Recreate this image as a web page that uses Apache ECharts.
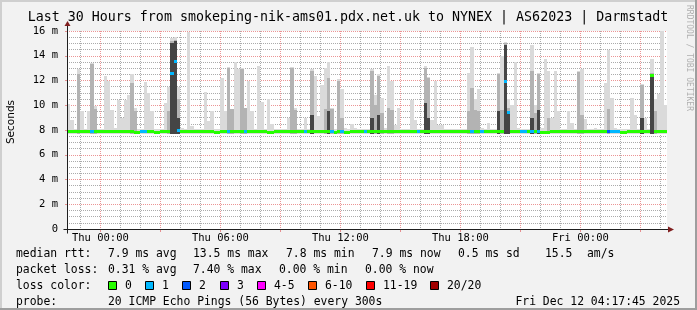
<!DOCTYPE html>
<html><head><meta charset="utf-8">
<script src="https://cdn.jsdelivr.net/npm/echarts@6/dist/echarts.min.js"></script>
<style>html,body{margin:0;padding:0;background:#f2f2f2}#c{width:697px;height:310px}</style>
</head><body><div id="c"></div>
<script>
// ---- data (10-minute bins, Wed 22:20 -> Fri 04:20) ----
const xTickLabels = ['Thu 00:00','Thu 06:00','Thu 12:00','Thu 18:00','Fri 00:00'];
const yTickLabels = ['0','2 m','4 m','6 m','8 m','10 m','12 m','14 m','16 m'];
const smokeFloor = 7.7;
// highest ping per bin (ms)
const pingMax = [
10.1,8.8,8.1,12.9,9.5,8.1,9.5,13.4,9.9,8.1, 8.1,12.4,12.0,9.6,8.2,10.4,9.0,10.4,10.8,12.5,
9.8,8.1,8.1,11.9,11.0,9.5,8.1,8.1,8.1,10.2, 11.5,15.4,15.5,11.5,8.2,8.1,15.9,8.3,8.1,8.1,
8.1,11.1,8.7,9.5,8.1,8.1,12.2,9.5,13.1,9.7, 13.5,12.9,13.0,9.8,12.0,9.5,8.1,13.2,10.3,8.1,
10.5,8.5,8.1,8.1,8.1,8.1,9.0,13.1,9.8,8.1, 8.1,9.0,8.1,12.9,12.4,9.1,11.6,13.0,13.5,9.8,
8.1,12.1,11.3,8.2,8.1,8.5,8.2,8.1,8.1,8.1, 8.1,12.9,10.8,12.5,10.6,8.2,13.2,12.0,8.4,9.8,
8.1,8.1,8.1,10.4,8.8,8.1,8.1,13.2,12.3,8.8, 12.0,8.4,8.4,8.1,8.1,8.1,8.1,8.1,8.1,8.1,
12.6,14.7,10.5,11.3,8.2,8.1,8.6,8.1,8.1,12.6, 14.0,15.1,10.5,10.0,13.5,8.2,8.1,8.1,8.1,14.9,
10.0,12.6,8.2,13.7,12.8,9.0,12.8,9.5,8.1,8.1, 9.5,8.6,8.1,12.8,12.9,8.9,8.1,8.1,8.2,8.1,
8.1,11.8,14.5,10.6,8.2,8.1,8.1,8.1,8.1,10.6, 9.2,8.1,11.7,9.0,8.1,13.7,10.5,10.9,16.0,10.0];
// upper edge of the medium smoke band (0 = none)
const pingMid = [
0,0,0,12.5,0,0,0,13.3,9.7,0, 0,0,0,0,0,0,0,0,0,11.8,
9.5,0,0,0,0,0,0,0,0,0, 9.5,15.2,15.3,10.5,0,0,0,0,0,0,
0,0,0,0,0,0,0,0,13.0,9.7, 0,0,12.9,9.75,0,0,0,0,0,0,
0,0,0,0,0,0,0,13.0,9.6,0, 0,0,0,12.8,0,0,0,9.7,12.2,9.7,
0,12.0,9.0,0,0,0,0,0,0,0, 0,12.8,10.0,12.4,9.4,0,9.8,9.6,0,0,
0,0,0,0,0,0,0,13.0,12.2,0, 0,0,0,0,0,0,0,0,0,0,
9.5,11.4,9.6,9.5,0,0,0,0,0,12.5, 9.6,15.0,9.8,0,0,0,0,0,0,12.8,
9.4,12.5,0,0,9.0,0,0,0,0,0, 0,0,0,12.7,9.2,0,0,0,0,0,
0,0,9.7,0,0,0,0,0,0,0, 0,0,11.6,0,0,12.6,9.5,0,0,0];
// upper edge of the dark smoke band (0 = none)
const pingDark = [
0,0,0,0,0,0,0,0,0,0, 0,0,0,0,0,0,0,0,0,0,
0,0,0,0,0,0,0,0,0,0, 0,15.0,15.2,9.0,0,0,0,0,0,0,
0,0,0,0,0,0,0,0,0,0, 0,0,0,0,0,0,0,0,0,0,
0,0,0,0,0,0,0,0,0,0, 0,0,0,9.2,0,0,0,0,9.5,0,
0,0,0,0,0,0,0,0,0,0, 0,9.0,0,9.2,0,0,0,0,0,0,
0,0,0,0,0,0,0,10.2,9.0,0, 0,0,0,0,0,0,0,0,0,0,
0,0,0,0,0,0,0,0,0,9.5, 0,14.9,9.3,0,0,0,0,0,0,9.0,
0,9.6,0,0,0,0,0,0,0,0, 0,0,0,0,0,0,0,0,0,0,
0,0,0,0,0,0,0,0,0,0, 0,0,9.0,0,0,12.4,0,0,0,0];
// median rtt per bin (ms)
const medianRtt = [
7.9,7.9,7.9,7.9,7.9,7.9,7.9,7.9,7.9,7.9, 7.9,7.9,7.9,7.9,7.9,7.9,7.9,7.9,7.9,7.9,
7.8,7.8,7.9,7.9,7.9,7.9,7.8,7.8,7.9,7.9, 7.9,12.6,13.5,8.0,7.9,7.9,7.9,7.9,7.9,7.9,
7.9,7.9,7.9,7.9,7.8,7.8,7.9,7.9,7.9,7.9, 7.9,7.9,7.9,7.9,7.9,7.9,7.9,7.9,7.9,7.9,
7.8,7.8,7.9,7.9,7.9,7.9,7.9,7.9,7.9,7.9, 7.9,7.9,7.9,7.9,7.9,7.9,7.9,7.9,7.9,7.9,
7.8,7.9,7.9,7.8,7.8,7.9,7.9,7.9,7.9,7.9, 7.9,7.9,7.9,7.9,7.9,7.9,7.9,7.9,7.9,7.9,
7.9,7.9,7.9,7.9,7.9,7.9,7.9,7.9,7.9,7.9, 7.9,7.9,7.9,7.9,7.9,7.9,7.9,7.9,7.9,7.9,
7.9,7.9,7.9,7.9,7.9,7.9,7.9,7.9,7.9,7.9, 7.9,11.9,9.4,7.9,7.9,7.9,7.9,7.9,7.9,7.9,
7.9,7.9,7.8,7.8,7.8,7.9,7.9,7.9,7.9,7.9, 7.9,7.9,7.9,7.9,7.9,7.9,7.9,7.9,7.9,7.9,
7.9,7.9,7.9,7.9,7.9,7.9,7.8,7.8,7.9,7.9, 7.9,7.9,7.9,7.9,7.9,12.4,7.9,7.9,7.9,7.9];
// lost pings (of 20) per bin
const lostPings = [
0,0,0,0,0,0,0,1,0,0, 0,0,0,0,0,0,0,0,0,0,
0,0,1,1,0,0,0,0,0,0, 0,1,1,1,0,0,0,0,0,0,
0,0,0,0,0,0,0,0,1,0, 0,0,0,1,0,0,0,0,0,0,
0,0,0,0,0,0,0,0,0,0, 0,1,0,0,0,0,0,0,0,1,
0,0,1,0,0,0,0,0,0,1, 0,0,0,0,0,0,0,0,0,0,
0,0,0,0,0,1,0,0,0,0, 0,0,0,0,0,0,0,0,0,0,
0,1,0,0,1,0,0,0,0,0, 0,1,1,0,0,0,1,1,0,1,
0,1,0,0,0,0,0,0,0,0, 0,0,0,0,0,0,0,0,0,0,
0,0,2,1,1,1,0,0,0,0, 0,0,0,0,0,0,0,0,0,0];
const lossLegend = ['0','1','2','3','4-5','6-10','11-19','20/20'];
const lossColors = ['#26ff00','#00b8ff','#0059ff','#7e00ff','#ff00ff','#ff5500','#ff0000','#a10000'];

// ---- categories ----
const days = ['Wed','Thu','Fri'];
const categories = [];
for (let i = 0; i <= pingMax.length; i++) {
  const t = 22 * 60 + 20 + i * 10;
  const d = days[Math.floor(t / 1440)];
  const hh = Math.floor((t % 1440) / 60), mm = t % 60;
  categories.push(d + ' ' + String(hh).padStart(2, '0') + ':' + String(mm).padStart(2, '0'));
}
const hourOf = v => parseInt(v.slice(4, 6), 10);
const isHour = v => v.slice(7) === '00';
const lossIdx = n => n <= 3 ? n : n <= 5 ? 4 : n <= 10 ? 5 : n < 20 ? 6 : 7;

const MONO = '"DejaVu Sans Mono"';
const GRID = 'rgba(143,143,143,0.75)';
const MGRID = 'rgba(222,79,79,0.6)';
const C_LIGHT = '#dadada', C_MID = '#b3b3b3', C_DARK = '#454545';

const smokeData = pingMax.map((v, i) => [i, v, pingMid[i], pingDark[i]]);
const medData = medianRtt.map((v, i) => [i, v, lostPings[i]]);

function renderSmoke(params, api) {
  const i = api.value(0);
  const xL = Math.round(api.coord([i, 0])[0]);
  const xR = Math.round(api.coord([i + 1, 0])[0]);
  const yLo = Math.round(api.coord([i, smokeFloor])[1]);
  const kids = [];
  const band = (v, c) => {
    const yT = Math.round(api.coord([i, v])[1]);
    kids.push({ type: 'rect', shape: { x: xL, y: yT, width: xR - xL, height: yLo - yT }, style: { fill: c } });
  };
  band(api.value(1), C_LIGHT);
  if (api.value(2) > 0) band(api.value(2), C_MID);
  if (api.value(3) > 0) band(api.value(3), C_DARK);
  return { type: 'group', children: kids };
}
function renderMedian(params, api) {
  const i = api.value(0);
  const xL = Math.round(api.coord([i, 0])[0]);
  const xR = Math.round(api.coord([i + 1, 0])[0]);
  const y = Math.round(api.coord([i, api.value(1)])[1] - 1.5);
  return { type: 'rect', shape: { x: xL, y: y, width: xR - xL, height: 3 }, style: { fill: lossColors[lossIdx(api.value(2))] } };
}
function renderAxes(params, api) {
  const o = api.coord([0, 0]), r = api.coord([categories.length - 1, 0]), t = api.coord([0, 16]);
  const x0 = Math.round(o[0]) + 0.5, y0 = Math.round(o[1]) + 0.5, x1 = Math.round(r[0]), yt = Math.round(t[1]);
  const AX = '#1f1f1f', AR = '#801f1f';
  return { type: 'group', children: [
    { type: 'line', shape: { x1: x0, y1: y0 + 4, x2: x0, y2: yt - 6 }, style: { stroke: AX, lineWidth: 1 } },
    { type: 'line', shape: { x1: x0 - 4, y1: y0, x2: x1 + 5, y2: y0 }, style: { stroke: AX, lineWidth: 1 } },
    { type: 'polygon', shape: { points: [[x0 - 3, yt - 5], [x0 + 3, yt - 5], [x0, yt - 10]] }, style: { fill: AR } },
    { type: 'polygon', shape: { points: [[x1 + 1, y0 - 3], [x1 + 1, y0 + 3], [x1 + 7, y0]] }, style: { fill: AR } }
  ] };
}

function txt(x, y, s, o) {
  o = o || {};
  return { type: 'text', x: x, y: y, rotation: o.rot || 0, z: 10,
    style: { text: s, font: (o.size || 11.4) + 'px ' + (o.fam || MONO), fill: o.fill || '#000',
      align: o.align || 'left', textAlign: o.align || 'left', verticalAlign: 'middle', textVerticalAlign: 'middle' } };
}
const R1 = 254, R2 = 270, R3 = 286, R4 = 302;
const graphics = [
  { type: 'rect', shape: { x: 0, y: 0, width: 697, height: 2 }, style: { fill: '#cfcfcf' }, z: 9 },
  { type: 'rect', shape: { x: 0, y: 0, width: 2, height: 310 }, style: { fill: '#cfcfcf' }, z: 9 },
  { type: 'rect', shape: { x: 0, y: 308, width: 697, height: 2 }, style: { fill: '#9e9e9e' }, z: 9 },
  { type: 'rect', shape: { x: 695, y: 0, width: 2, height: 310 }, style: { fill: '#9e9e9e' }, z: 9 },
  txt(348, 18, 'Last 30 Hours from smokeping-nik-ams01.pdx.net.uk to NYNEX | AS62023 | Darmstadt', { size: 13.3, align: 'center' }),
  txt(11, 122, 'Seconds', { size: 10.5, fam: '"DejaVu Sans"', align: 'center', rot: Math.PI / 2 }),
  txt(689, 5, 'RRDTOOL / TOBI OETIKER', { size: 8, fill: '#b0b0b0', rot: -Math.PI / 2 }),
  txt(16, R1, 'median rtt:'), txt(108, R1, '7.9 ms avg'), txt(193, R1, '13.5 ms max'), txt(286, R1, '7.8 ms min'),
  txt(372, R1, '7.9 ms now'), txt(458, R1, '0.5 ms sd'), txt(545, R1, '15.5'), txt(587, R1, 'am/s'),
  txt(16, R2, 'packet loss:'), txt(108, R2, '0.31 % avg'), txt(193, R2, '7.40 % max'), txt(279, R2, '0.00 % min'), txt(365, R2, '0.00 % now'),
  txt(16, R3, 'loss color:'),
  txt(16, R4, 'probe:'), txt(108, R4, '20 ICMP Echo Pings (56 Bytes) every 300s'), txt(680, R4, 'Fri Dec 12 04:17:45 2025', { align: 'right' })
];
const boxX = [108, 145, 182, 220, 257, 308, 366, 430];
lossLegend.forEach((lab, k) => {
  graphics.push({ type: 'rect', z: 10, shape: { x: boxX[k] + 0.5, y: R3 - 4.5, width: 8, height: 8 }, style: { fill: lossColors[k], stroke: '#000', lineWidth: 1 } });
  graphics.push(txt(boxX[k] + 17, R3, lab));
});

const chart = echarts.init(document.getElementById('c'), null, { renderer: 'canvas' });
chart.setOption({
  animation: false,
  backgroundColor: '#f2f2f2',
  grid: { left: 67, top: 31, width: 600, height: 198, show: true, backgroundColor: '#ffffff', borderWidth: 0 },
  xAxis: [
    { type: 'category', data: categories, boundaryGap: false, position: 'bottom',
      axisLine: { show: false }, axisTick: { show: false }, axisLabel: { show: false },
      splitLine: { show: true, interval: (i, v) => isHour(v) && hourOf(v) % 3 !== 0, lineStyle: { color: GRID, type: [1, 1] } } },
    { type: 'category', data: categories, boundaryGap: false, position: 'bottom',
      axisLine: { show: false },
      axisTick: { show: true, length: 3, interval: (i, v) => isHour(v) && hourOf(v) % 3 === 0, lineStyle: { color: MGRID } },
      axisLabel: { show: true, interval: (i, v) => xTickLabels.indexOf(v) >= 0, fontFamily: MONO, fontSize: 10.5, color: '#000', margin: 4 },
      splitLine: { show: true, interval: (i, v) => isHour(v) && hourOf(v) % 3 === 0, lineStyle: { color: MGRID, type: [1, 1] } } }
  ],
  yAxis: { type: 'value', min: 0, max: 16, interval: 2,
    axisLine: { show: false },
    axisTick: { show: true, length: 2, lineStyle: { color: MGRID } },
    axisLabel: { fontFamily: MONO, fontSize: 10.5, color: '#000', margin: 9, formatter: v => yTickLabels[Math.round(v / 2)] },
    splitLine: { show: true, lineStyle: { color: MGRID, type: [1, 1] } },
    minorTick: { show: false, splitNumber: 4 },
    minorSplitLine: { show: true, lineStyle: { color: GRID, type: [1, 1] } } },
  series: [
    { type: 'custom', name: 'smoke', xAxisIndex: 0, renderItem: renderSmoke, data: smokeData, encode: { x: 0, y: 1 }, clip: false, z: 2 },
    { type: 'custom', name: 'median', xAxisIndex: 0, renderItem: renderMedian, data: medData, encode: { x: 0, y: 1 }, clip: false, z: 3 },
    { type: 'custom', name: 'axes', xAxisIndex: 0, renderItem: renderAxes, data: [[0, 0]], encode: { x: 0, y: 1 }, clip: false, z: 4, silent: true }
  ],
  graphic: graphics
});
</script></body></html>
